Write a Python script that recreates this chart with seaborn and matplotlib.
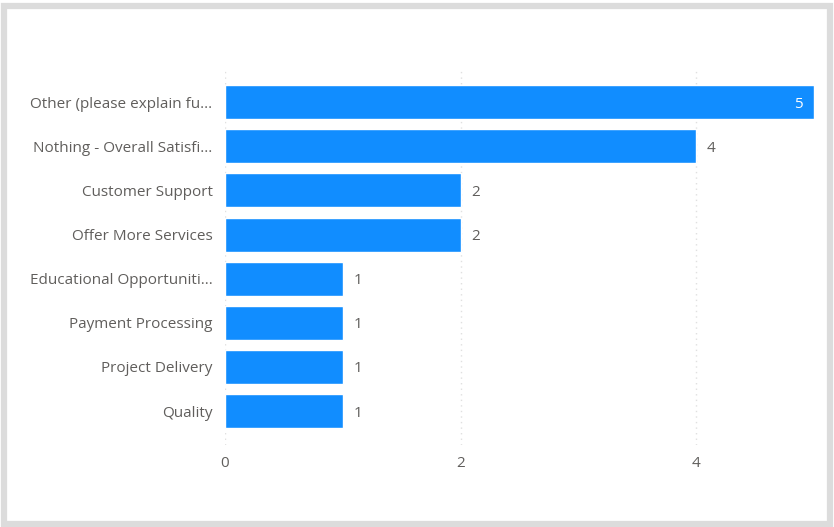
import matplotlib
matplotlib.use("Agg")
import matplotlib.pyplot as plt
import seaborn as sns
import pandas as pd
from matplotlib.patches import Rectangle

categories = [
    "Other (please explain fu...",
    "Nothing - Overall Satisfi...",
    "Customer Support",
    "Offer More Services",
    "Educational Opportuniti...",
    "Payment Processing",
    "Project Delivery",
    "Quality",
]
counts = [5, 4, 2, 2, 1, 1, 1, 1]
x_ticks = [0, 2, 4]

df = pd.DataFrame({"category": categories, "count": counts})

sns.set_theme(style="white")
plt.rcParams["font.family"] = ["Open Sans", "DejaVu Sans"]

W, H = 834, 527
fig = plt.figure(figsize=(W / 100, H / 100), dpi=100)
fig.patch.set_facecolor("white")

ax = fig.add_axes([225 / W, 1 - 445 / H, (814 - 225) / W, (445 - 70) / H])
sns.barplot(data=df, x="count", y="category", color="#118DFF", width=0.77,
            saturation=1, ax=ax, orient="h")

ax.set_xlim(0, 5)
ax.set_ylim(7.77, -0.73)
ax.set_xticks(x_ticks)
ax.set_xlabel("")
ax.set_ylabel("")
for s in ax.spines.values():
    s.set_visible(False)
ax.xaxis.grid(True, color="#E0E0E0", linestyle=(0, (1, 3)), linewidth=1)
ax.set_axisbelow(True)
ax.tick_params(axis="both", length=0, labelsize=11, labelcolor="#605E5C")
ax.tick_params(axis="y", pad=9)
ax.tick_params(axis="x", pad=8)

# value labels: inside the bar when it reaches the end of the axis
for i, v in enumerate(counts):
    if v >= 5:
        ax.text(v - 0.1, i, str(v), ha="right", va="center_baseline", color="white", fontsize=11)
    else:
        ax.text(v + 0.09, i, str(v), ha="left", va="center_baseline", color="#605E5C", fontsize=11)

# card frame
fig.patches.append(Rectangle((3.5 / W, 3.5 / H), (W - 8) / W, (H - 9) / H,
                             transform=fig.transFigure, fill=False,
                             edgecolor="#DCDCDC", linewidth=4.5))

fig.savefig("out.png", dpi=100, facecolor="white")
